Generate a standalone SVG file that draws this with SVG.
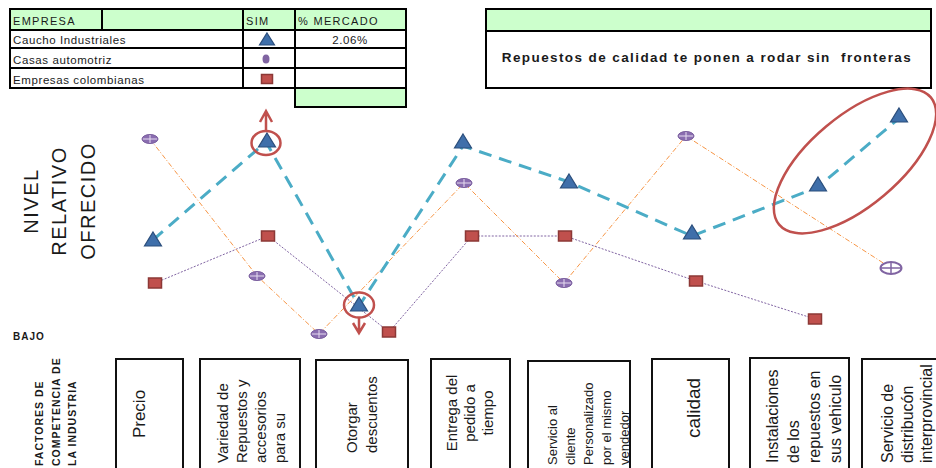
<svg xmlns="http://www.w3.org/2000/svg" width="936" height="468" viewBox="0 0 936 468">
<style>
  text { font-family: "Liberation Sans", Arial, sans-serif; fill: #1a1a1a; }
  .cell { stroke: #000; stroke-width: 2; fill: #fff; }
  .green { fill: #ccffcc; }
  .tbl { font-size: 11.5px; letter-spacing: 0.6px; }
  .hdr { font-size: 11px; letter-spacing: 1.3px; }
  .box { stroke: #111; stroke-width: 2; fill: #fff; }
  .bt { font-size: 15px; }
  .axis { font-size: 20px; letter-spacing: 1.5px; }
  .tri { fill: #3F6FAA; stroke: #2B4E7C; stroke-width: 1.2; }
  .sq { fill: #C0504D; stroke: #8C3836; stroke-width: 1.5; }
  .ell { fill: #8A6DB0; stroke: #7A5E9E; stroke-width: 1; }
  .ellc { stroke: #E6DDF0; stroke-width: 1; fill: none; }
  .red { fill: none; stroke: #C0504D; stroke-width: 2.5; }
</style>
<defs>
  <path id="tri" d="M0,-8 L8.5,6 L-8.5,6 Z"/>
  <g id="ellm">
    <ellipse cx="0" cy="0" rx="8" ry="4.5" class="ell"/>
    <path d="M-7,0 H7 M0,-4 V4" class="ellc"/>
  </g>
  <rect id="sqm" x="-6.5" y="-5" width="13" height="10"/>
  <clipPath id="clip5"><rect x="529" y="360" width="100" height="120"/></clipPath>
</defs>

<!-- legend table -->
<g id="legend-table">
  <rect x="10" y="9" width="92" height="21" class="cell green"/>
  <rect x="102" y="9" width="141" height="21" class="cell green"/>
  <rect x="243" y="9" width="52" height="21" class="cell green"/>
  <rect x="295" y="9" width="111" height="21" class="cell green"/>
  <rect x="10" y="30" width="233" height="18" class="cell"/>
  <rect x="243" y="30" width="52" height="18" class="cell"/>
  <rect x="295" y="30" width="111" height="18" class="cell"/>
  <rect x="10" y="48" width="233" height="20" class="cell"/>
  <rect x="243" y="48" width="52" height="20" class="cell"/>
  <rect x="295" y="48" width="111" height="20" class="cell"/>
  <rect x="10" y="68" width="233" height="20" class="cell"/>
  <rect x="243" y="68" width="52" height="20" class="cell"/>
  <rect x="295" y="68" width="111" height="20" class="cell"/>
  <rect x="295" y="88" width="111" height="19" class="cell green"/>
  <text x="13" y="25" class="hdr">EMPRESA</text>
  <text x="246" y="25" class="hdr">SIM</text>
  <text x="298" y="25" class="hdr">% MERCADO</text>
  <text x="13" y="44" class="tbl">Caucho Industriales</text>
  <text x="13" y="64" class="tbl">Casas automotriz</text>
  <text x="13" y="84" class="tbl">Empresas colombianas</text>
  <text x="350" y="44" class="tbl" text-anchor="middle">2.06%</text>
  <path d="M267,33 L274.5,45 L259.5,45 Z" class="tri"/>
  <ellipse cx="266" cy="59" rx="3.5" ry="4.5" fill="#8064A2"/>
  <rect x="261.5" y="74.5" width="11" height="9" class="sq"/>
</g>

<!-- title box -->
<g id="title-box">
  <rect x="486" y="9" width="445" height="22" class="cell green"/>
  <rect x="486" y="31" width="445" height="57" class="cell"/>
  <text x="707" y="62" font-size="13.5" font-weight="bold" letter-spacing="1.4" text-anchor="middle">Repuestos de calidad te ponen a rodar sin&#160; fronteras</text>
</g>

<!-- axis labels -->
<g id="axis-labels">
  <text class="axis" text-anchor="middle" transform="translate(38,201) rotate(-90)">NIVEL</text>
  <text class="axis" text-anchor="middle" transform="translate(66,201) rotate(-90)">RELATIVO</text>
  <text class="axis" text-anchor="middle" transform="translate(95,201) rotate(-90)">OFRECIDO</text>
  <text x="13" y="340" font-size="10" font-weight="bold" letter-spacing="1">BAJO</text>
  <g font-size="10.5" font-weight="bold" letter-spacing="1">
    <text transform="translate(43,466) rotate(-90)">FACTORES DE</text>
    <text transform="translate(60,466) rotate(-90)">COMPETENCIA DE</text>
    <text transform="translate(76,466) rotate(-90)">LA INDUSTRIA</text>
  </g>
</g>

<!-- connectors (series lines) -->
<g id="connectors" fill="none">
  <polyline points="155,283 268,236 389,332 472,236 565,236 696,281 815,319" stroke="#8064A2" stroke-width="1" stroke-dasharray="2 1.5"/>
  <polyline points="150,139 257,276 319,334 464,183 564,283 686,136 891,268" stroke="#F79646" stroke-width="1" stroke-dasharray="5 2 1 2"/>
  <polyline points="153,240 266,142 359,306 463,146 569,182 692,236 818,187 897,120" stroke="#4BACC6" stroke-width="3" stroke-dasharray="13 8"/>
</g>

<!-- series: Empresas colombianas -->
<g id="series-empresas" class="sq">
  <use href="#sqm" x="155" y="283"/>
  <use href="#sqm" x="268" y="236"/>
  <use href="#sqm" x="389" y="332"/>
  <use href="#sqm" x="472" y="236"/>
  <use href="#sqm" x="565" y="236"/>
  <use href="#sqm" x="696" y="281"/>
  <use href="#sqm" x="815" y="319"/>
</g>

<!-- series: Casas automotriz -->
<g id="series-casas">
  <use href="#ellm" x="150" y="139"/>
  <use href="#ellm" x="257" y="276"/>
  <use href="#ellm" x="319" y="334"/>
  <use href="#ellm" x="464" y="183"/>
  <use href="#ellm" x="564" y="283"/>
  <use href="#ellm" x="686" y="136"/>
  <ellipse cx="891" cy="268" rx="10.5" ry="6" fill="#fff" stroke="#8064A2" stroke-width="2"/>
  <path d="M881,268 H901 M891,262 V274" stroke="#8064A2" stroke-width="1.5"/>
</g>

<!-- series: Caucho Industriales -->
<g id="series-caucho" class="tri">
  <use href="#tri" x="153" y="240"/>
  <use href="#tri" x="267" y="141"/>
  <use href="#tri" x="359" y="305"/>
  <use href="#tri" x="463" y="142"/>
  <use href="#tri" x="569" y="182"/>
  <use href="#tri" x="692" y="233"/>
  <use href="#tri" x="818" y="185"/>
  <use href="#tri" x="899" y="116"/>
</g>

<!-- annotations -->
<g id="annotations" class="red">
  <ellipse cx="266" cy="143" rx="14.5" ry="12"/>
  <path d="M266,131 V112 M260,122 L266,111 L272,122"/>
  <ellipse cx="359" cy="305" rx="15" ry="12.5"/>
  <path d="M359,318 V332 M353,323 L359,333 L365,323"/>
  <ellipse cx="855" cy="161" rx="99" ry="45" transform="rotate(-40 855 161)"/>
</g>

<!-- factor boxes -->
<g id="factor-precio">
  <rect x="116" y="359" width="67" height="130" class="box"/>
  <text font-size="17" text-anchor="middle" transform="translate(145,414) rotate(-90)">Precio</text>
</g>
<g id="factor-variedad" class="bt">
  <rect x="200" y="359" width="100" height="130" class="box"/>
  <text transform="translate(228,463) rotate(-90)">Variedad de</text>
  <text transform="translate(247,463) rotate(-90)">Repuestos y</text>
  <text transform="translate(266,463) rotate(-90)">accesorios</text>
  <text transform="translate(285,463) rotate(-90)">para su</text>
</g>
<g id="factor-descuentos" class="bt">
  <rect x="316" y="360" width="92" height="130" class="box"/>
  <text transform="translate(357,453) rotate(-90)">Otorgar</text>
  <text transform="translate(377,453) rotate(-90)">descuentos</text>
</g>
<g id="factor-entrega" class="bt" text-anchor="middle">
  <rect x="431" y="359" width="79" height="130" class="box"/>
  <text transform="translate(457,413) rotate(-90)">Entrega del</text>
  <text transform="translate(475,413) rotate(-90)">pedido a</text>
  <text transform="translate(493,413) rotate(-90)">tiempo</text>
</g>
<g id="factor-servicio" font-size="13">
  <rect x="528" y="361" width="102" height="130" class="box"/>
  <g clip-path="url(#clip5)">
    <text transform="translate(557,465) rotate(-90)">Servicio al</text>
    <text transform="translate(575,465) rotate(-90)">cliente</text>
    <text transform="translate(593,465) rotate(-90)">Personalizado</text>
    <text transform="translate(611,465) rotate(-90)">por el mismo</text>
    <text transform="translate(629,465) rotate(-90)">vendedor</text>
  </g>
</g>
<g id="factor-calidad">
  <rect x="652" y="359" width="77" height="130" class="box"/>
  <text font-size="19" text-anchor="middle" transform="translate(700,408) rotate(-90)">calidad</text>
</g>
<g id="factor-instalaciones" font-size="16">
  <rect x="750" y="358" width="99" height="130" class="box"/>
  <text transform="translate(778,463) rotate(-90)">Instalaciones</text>
  <text transform="translate(799,463) rotate(-90)">de los</text>
  <text transform="translate(820,463) rotate(-90)">repuestos en</text>
  <text transform="translate(841,463) rotate(-90)">sus vehiculo</text>
</g>
<g id="factor-distribucion" font-size="16">
  <rect x="862" y="359" width="90" height="130" class="box"/>
  <text transform="translate(893,463) rotate(-90)">Servicio de</text>
  <text transform="translate(913,463) rotate(-90)">distribucón</text>
  <text transform="translate(932,463) rotate(-90)">interprovincial</text>
</g>
</svg>
